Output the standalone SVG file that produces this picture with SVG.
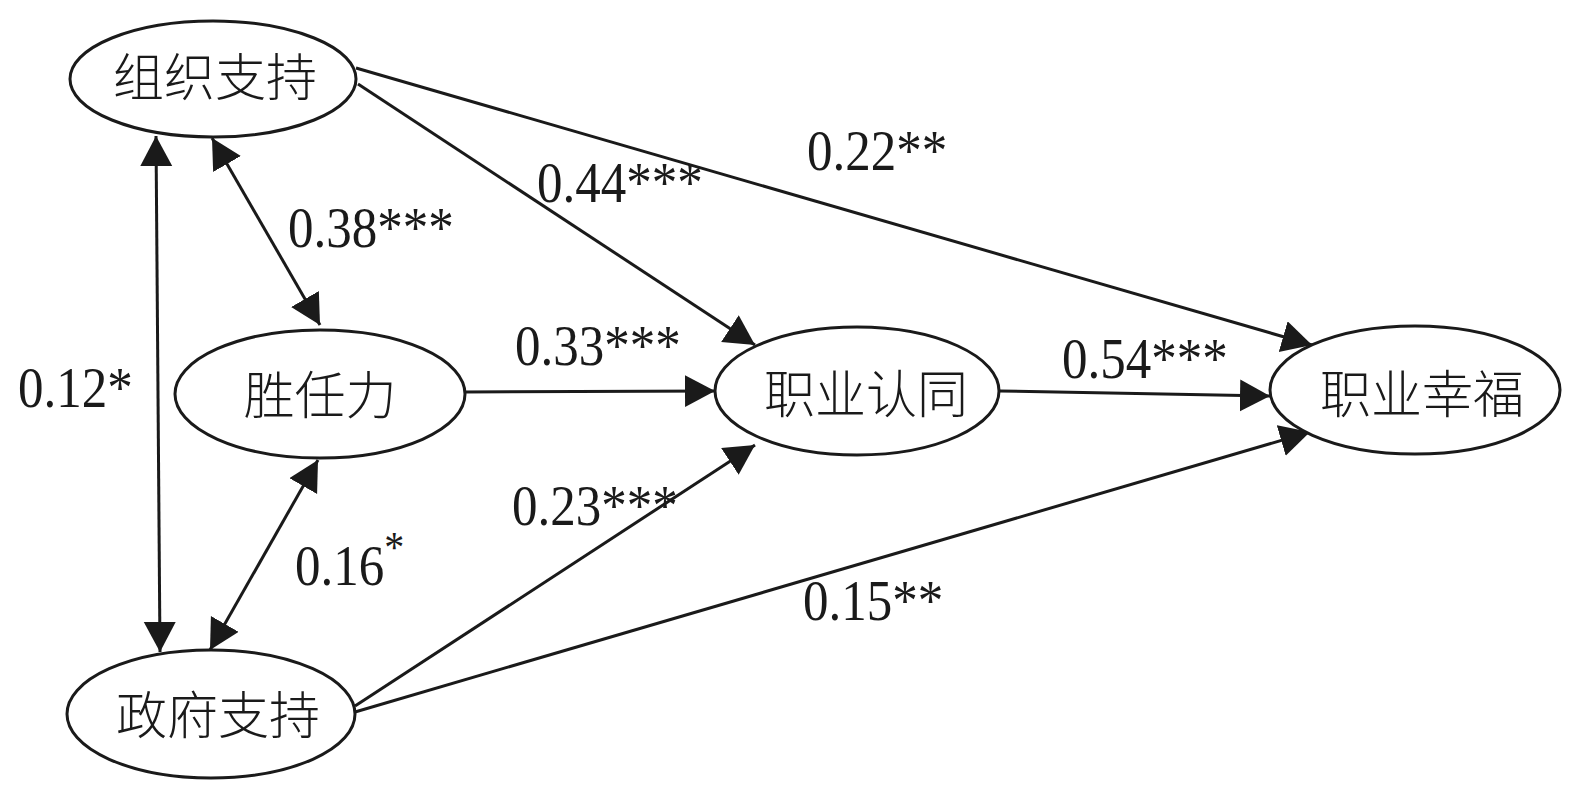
<svg xmlns="http://www.w3.org/2000/svg" width="1575" height="787" viewBox="0 0 1575 787">
<style>
.node ellipse{fill:#fff;stroke:#1a1a1a;stroke-width:3}
.node text{font-family:"Noto Sans CJK SC","Noto Sans",sans-serif;font-size:51px;fill:#1a1a1a;text-anchor:middle;font-weight:300}
.edges line{stroke:#1a1a1a;stroke-width:3;fill:none}
.lbl{font-family:"Liberation Serif","Times New Roman",serif;font-size:51px;fill:#1a1a1a}
</style>
<defs>
<marker id="ah" markerUnits="userSpaceOnUse" markerWidth="32" markerHeight="34" refX="30" refY="16" orient="auto-start-reverse" viewBox="0 0 32 34">
<path d="M0,0 L30,16 L0,32 z" fill="#1a1a1a"/>
</marker>
</defs>
<rect width="1575" height="787" fill="#fff"/>
<g class="edges">
<line x1="356" y1="68" x2="1312" y2="345" marker-end="url(#ah)"/>
<line x1="358" y1="84" x2="755" y2="345" marker-end="url(#ah)"/>
<line x1="464" y1="392" x2="715" y2="391" marker-end="url(#ah)"/>
<line x1="1000" y1="391" x2="1270" y2="396" marker-end="url(#ah)"/>
<line x1="355" y1="706" x2="755" y2="445" marker-end="url(#ah)"/>
<line x1="355" y1="712" x2="1310" y2="432" marker-end="url(#ah)"/>
<line x1="156" y1="136" x2="160" y2="652" marker-start="url(#ah)" marker-end="url(#ah)"/>
<line x1="212" y1="138" x2="320" y2="325" marker-start="url(#ah)" marker-end="url(#ah)"/>
<line x1="318" y1="460" x2="210" y2="650" marker-start="url(#ah)" marker-end="url(#ah)"/>
</g>
<g id="n-zuzhi" class="node"><ellipse cx="213" cy="79" rx="143" ry="58"/><text x="215" y="96">组织支持</text></g>
<g id="n-shengren" class="node"><ellipse cx="320" cy="394" rx="145" ry="64"/><text x="320" y="414">胜任力</text></g>
<g id="n-zhengfu" class="node"><ellipse cx="211" cy="714" rx="144" ry="64"/><text x="218" y="734">政府支持</text></g>
<g id="n-rentong" class="node"><ellipse cx="857" cy="391" rx="142" ry="64"/><text x="866" y="413">职业认同</text></g>
<g id="n-xingfu" class="node"><ellipse cx="1415" cy="390" rx="145" ry="64"/><text x="1422" y="413">职业幸福</text></g>
<g id="labels">
<text class="lbl" transform="translate(807,170) scale(1,1.13)">0.22**</text>
<text class="lbl" transform="translate(537,202) scale(1,1.13)">0.44***</text>
<text class="lbl" transform="translate(288,247) scale(1,1.13)">0.38***</text>
<text class="lbl" transform="translate(515,365) scale(1,1.13)">0.33***</text>
<text class="lbl" transform="translate(1062,378) scale(1,1.13)">0.54***</text>
<text class="lbl" transform="translate(18,407) scale(1,1.13)">0.12*</text>
<text class="lbl" transform="translate(512,525) scale(1,1.13)">0.23***</text>
<text class="lbl" transform="translate(295,585) scale(1,1.13)">0.16<tspan dy="-20" font-size="40">*</tspan></text>
<text class="lbl" transform="translate(803,620) scale(1,1.13)">0.15**</text>
</g>
</svg>
